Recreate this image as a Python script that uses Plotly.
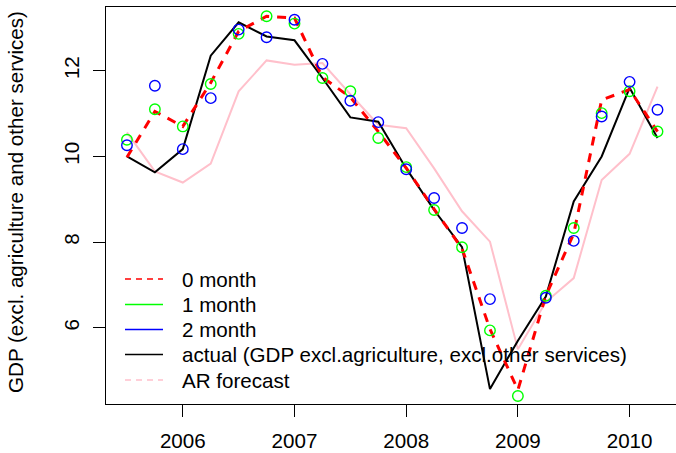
import plotly.graph_objects as go

# ---------------- data ----------------
quarters = [2005.5, 2005.75, 2006.0, 2006.25, 2006.5, 2006.75, 2007.0, 2007.25,
            2007.5, 2007.75, 2008.0, 2008.25, 2008.5, 2008.75, 2009.0, 2009.25,
            2009.5, 2009.75, 2010.0, 2010.25]

actual = [10.00, 9.63, 10.17, 12.35, 13.13, 12.80, 12.71, 11.83, 10.91, 10.81,
          9.72, 8.75, 7.88, 4.57, 5.70, 6.73, 8.95, 10.00, 11.60, 10.43]

month0 = [9.98, 11.05, 10.70, 11.72, 12.92, 13.27, 13.23, 11.85, 11.38, 10.58,
          9.73, 8.77, 7.85, 5.97, 4.55, 6.75, 8.20, 11.32, 11.56, 10.58]

month1 = [10.39, 11.10, 10.70, 11.69, 12.86, 13.27, 13.10, 11.83, 11.52, 10.43,
          9.75, 8.75, 7.88, 5.94, 4.41, 6.75, 8.33, 11.01, 11.52, 10.58]

month2 = [10.26, 11.65, 10.17, 11.36, 12.96, 12.78, 13.19, 12.16, 11.30, 10.80,
          9.70, 9.03, 8.33, 6.67, None, 6.70, 8.03, 10.93, 11.74, 11.09]

ar_forecast = [10.56, 9.65, 9.39, 9.83, 11.52, 12.24, 12.14, 12.18, 11.45, 10.74,
               10.66, 9.72, 8.72, 8.01, 5.50, 6.60, 7.16, 9.45, 10.06, 11.63]

x_ticks = [2006, 2007, 2008, 2009, 2010]
y_ticks = [6, 8, 10, 12]

legend_labels = ["0 month", "1 month", "2 month",
                 "actual (GDP excl.agriculture, excl.other services)", "AR forecast"]
legend_colors = ["#FF0000", "#00FF00", "#0000FF", "#000000", "#FFC0CB"]
legend_dash = ["6px,5px", "solid", "solid", "solid", "6px,5px"]

y_title = "GDP (excl. agriculture and other services)"

# ---------------- figure ----------------
FONT = "Liberation Sans, Arial, Helvetica, sans-serif"
FS = 20.6
L, T, W, H = 106, 7, 570, 397
FIG_W, FIG_H = 676, 453


def px2x(px):
    return (px - L) / W


def py2y(py):
    return (T + H - py) / H


fig = go.Figure()

fig.add_trace(go.Scatter(x=quarters, y=ar_forecast, mode="lines",
                         line=dict(color="#FFC0CB", width=2), showlegend=False))
fig.add_trace(go.Scatter(x=quarters, y=actual, mode="lines",
                         line=dict(color="#000000", width=2), showlegend=False))
fig.add_trace(go.Scatter(x=quarters, y=month0, mode="lines",
                         line=dict(color="#FF0000", width=3, dash="9px,8px"),
                         showlegend=False))
fig.add_trace(go.Scatter(x=quarters, y=month1, mode="markers",
                         marker=dict(symbol="circle-open", size=10.5,
                                     color="#00FF00", line=dict(width=1.4)),
                         showlegend=False))
fig.add_trace(go.Scatter(x=quarters, y=month2, mode="markers",
                         marker=dict(symbol="circle-open", size=10.5,
                                     color="#0000FF", line=dict(width=1.4)),
                         showlegend=False))

# manual legend (R style, no box)
row_y = [279, 304.5, 329.5, 354.5, 380]
shapes = []
annotations = []
for lab, col, dsh, ry in zip(legend_labels, legend_colors, legend_dash, row_y):
    shapes.append(dict(type="line", xref="paper", yref="paper",
                       x0=px2x(125), x1=px2x(163), y0=py2y(ry), y1=py2y(ry),
                       line=dict(color=col, width=1.5, dash=dsh)))
    annotations.append(dict(xref="paper", yref="paper", x=px2x(180), y=py2y(ry),
                            xanchor="left", yanchor="middle", text=lab,
                            showarrow=False,
                            font=dict(family=FONT, size=FS, color="black")))

annotations.append(dict(xref="paper", yref="paper", x=0, y=py2y(202),
                        xshift=16 - L, xanchor="center", yanchor="middle",
                        text=y_title, textangle=-90, showarrow=False,
                        font=dict(family=FONT, size=FS, color="black")))

fig.update_layout(
    width=FIG_W, height=FIG_H,
    margin=dict(l=L, r=FIG_W - L - W, t=T, b=FIG_H - T - H, autoexpand=False),
    paper_bgcolor="white", plot_bgcolor="white",
    font=dict(family=FONT, size=FS, color="black"),
    showlegend=False,
    shapes=shapes,
    annotations=annotations,
)

fig.update_xaxes(range=[2005.3124, 2010.4155], tickvals=x_ticks,
                 ticktext=[str(v) for v in x_ticks],
                 ticks="outside", ticklen=12, tickwidth=1.3, tickcolor="black",
                 showline=True, linecolor="black", linewidth=1.3, mirror=True,
                 showgrid=False, zeroline=False, ticklabelstandoff=6,
                 tickfont=dict(family=FONT, size=FS, color="black"))
fig.update_yaxes(range=[4.222, 13.487], tickvals=y_ticks,
                 ticktext=[str(v) for v in y_ticks], tickangle=-90,
                 ticks="outside", ticklen=12, tickwidth=1.3, tickcolor="black",
                 showline=True, linecolor="black", linewidth=1.3, mirror=False,
                 showgrid=False, zeroline=False, ticklabelstandoff=6,
                 tickfont=dict(family=FONT, size=FS, color="black"))

fig.write_html("out.html",
               config={"displayModeBar": False},
               post_script="document.body.style.margin='0';"
                           "document.body.style.overflow='hidden';")
